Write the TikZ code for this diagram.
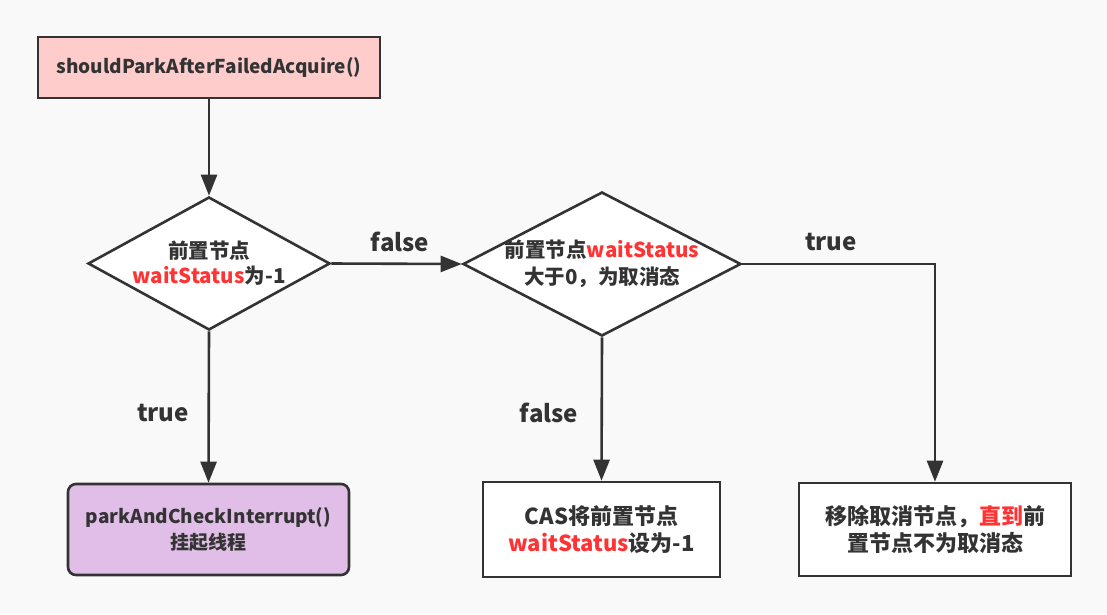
\documentclass[tikz,border=0pt]{standalone}
\usepackage{fontspec}
\setmainfont{Noto Sans CJK SC}
\usetikzlibrary{shapes.geometric,arrows.meta}
\definecolor{ink}{HTML}{333333}
\definecolor{redtxt}{HTML}{FF3333}
\definecolor{pinkfill}{HTML}{FFCCCC}
\definecolor{purplefill}{HTML}{E1BEE7}
\definecolor{bg}{HTML}{F9F9F9}
\newcommand{\rt}[1]{\textcolor{redtxt}{#1}}
\tikzset{
  box/.style={draw=ink, line width=2.6pt, fill=white, inner sep=0pt, align=center, text=ink, font=\bfseries\fontsize{22}{27}\selectfont},
  dia/.style={diamond, draw=ink, line width=2.6pt, fill=white, inner sep=0pt},
  lbl/.style={text=ink, font=\bfseries\fontsize{24}{28}\selectfont, inner sep=0pt},
  conn/.style={draw=ink, line width=2.6pt, -{Triangle[length=21pt,width=16pt]}},
}
\begin{document}
\begin{tikzpicture}[x=1pt,y=-1pt]
\fill[bg] (0,0) rectangle (1107,614);
\useasboundingbox (0,0) rectangle (1107,614);

\node[box, fill=pinkfill, minimum width=342pt, minimum height=61pt, font=\bfseries\fontsize{19}{24}\selectfont] (b1) at (209,67.5) {shouldParkAfterFailedAcquire()};

\node[dia, minimum width=242pt, minimum height=133pt,
  label={[align=center, text=ink, font=\bfseries\fontsize{20.5}{25}\selectfont]center:前置节点\\\rt{waitStatus}为-1}] (d1) at (209,263.5) {};

\node[dia, minimum width=278pt, minimum height=144pt,
  label={[align=center, text=ink, font=\bfseries\fontsize{20.5}{27}\selectfont]center:前置节点\rt{waitStatus}\\大于0，为取消态}] (d2) at (602,264) {};

\node[box, fill=purplefill, rounded corners=8pt, minimum width=281pt, minimum height=91pt, font=\bfseries\fontsize{19}{26}\selectfont] (b2) at (208.5,529.5) {parkAndCheckInterrupt()\\挂起线程};

\node[box, minimum width=237pt, minimum height=95pt] (b3) at (601.5,529.5) {CAS将前置节点\\\rt{waitStatus}设为-1};

\node[box, minimum width=272pt, minimum height=93pt] (b4) at (935,529.5) {移除取消节点，\rt{直到}前\\置节点不为取消态};

\draw[conn] (b1.south) -- (d1.north);
\draw[conn] (d1.east) -- (d2.west);
\draw[conn] (d2.east) -| (b4.north);
\draw[conn] (d1.south) -- (b2.north);
\draw[conn] (d2.south) -- (b3.north);

\node[lbl] (l1) at (400,242) {false};
\node[lbl] (l2) at (831,242) {true};
\node[lbl] (l3) at (163,413) {true};
\node[lbl] (l4) at (549,413) {false};
\end{tikzpicture}
\end{document}
